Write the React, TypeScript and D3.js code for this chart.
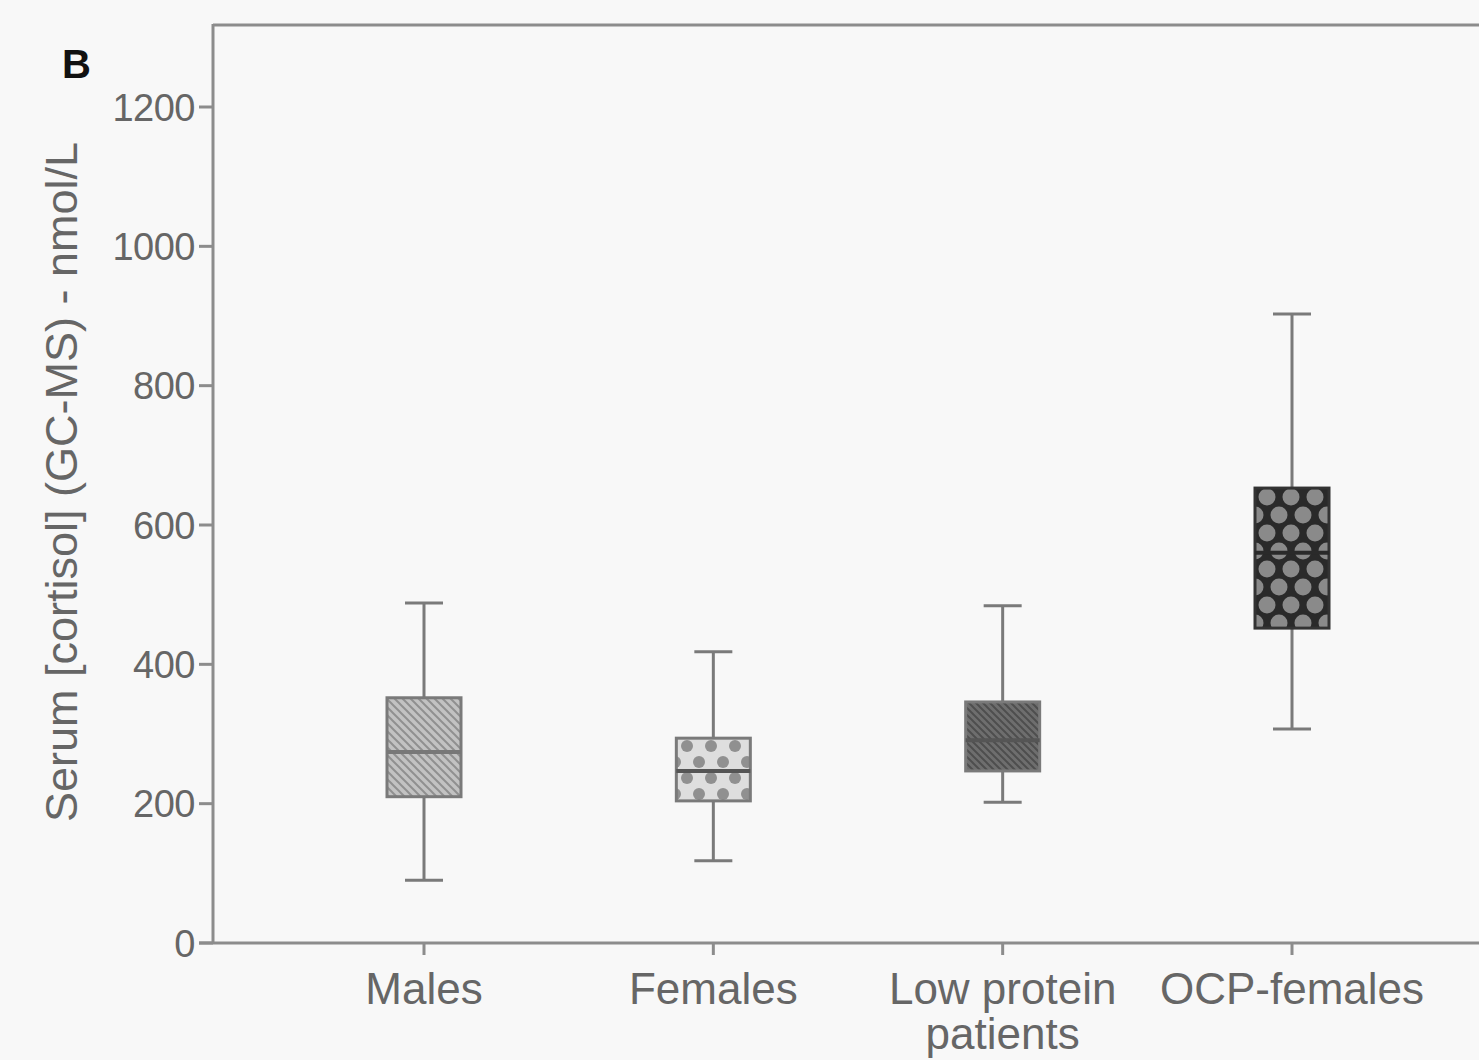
import React, { useEffect, useRef } from 'react';
import * as d3 from 'd3';

const categories = ['Males', 'Females', 'Low protein\npatients', 'OCP-females'];
const whiskerLow = [90, 118, 202, 307];
const q1 = [210, 204, 247, 452];
const median = [274, 247, 291, 560];
const q3 = [352, 294, 346, 653];
const whiskerHigh = [488, 418, 484, 903];
const yTicks = [0, 200, 400, 600, 800, 1000, 1200];

const App = () => {
  const ref = useRef<SVGSVGElement>(null);

  useEffect(() => {
    document.body.style.margin = '0';
    const width = 1479;
    const height = 1060;
    const left = 213, top = 25, bottom = 943;

    const svg = d3.select(ref.current);
    svg.selectAll('*').remove();
    svg.attr('width', width).attr('height', height);

    svg.append('rect').attr('width', width).attr('height', height).attr('fill', '#f8f8f8');

    const defs = svg.append('defs');

    // Males: light grey with diagonal hatch
    const p1 = defs.append('pattern').attr('id', 'pMales').attr('patternUnits', 'userSpaceOnUse')
      .attr('width', 8).attr('height', 8);
    p1.append('rect').attr('width', 8).attr('height', 8).attr('fill', '#c2c2c2');
    p1.append('path').attr('d', 'M-2,-2 L10,10 M-2,6 L2,10 M6,-2 L10,2').attr('stroke', '#909090').attr('stroke-width', 2);

    // Females: light with dark dots
    const p2 = defs.append('pattern').attr('id', 'pFemales').attr('patternUnits', 'userSpaceOnUse')
      .attr('width', 24).attr('height', 32).attr('x', 675).attr('y', 738);
    p2.append('rect').attr('width', 24).attr('height', 32).attr('fill', '#dedede');
    p2.append('circle').attr('cx', 12).attr('cy', 8).attr('r', 6).attr('fill', '#909090');
    p2.append('circle').attr('cx', 0).attr('cy', 24).attr('r', 6).attr('fill', '#909090');
    p2.append('circle').attr('cx', 24).attr('cy', 24).attr('r', 6).attr('fill', '#909090');

    // Low protein: dark grey with hatch
    const p3 = defs.append('pattern').attr('id', 'pLow').attr('patternUnits', 'userSpaceOnUse')
      .attr('width', 7).attr('height', 7);
    p3.append('rect').attr('width', 7).attr('height', 7).attr('fill', '#6e6e6e');
    p3.append('path').attr('d', 'M-2,-2 L9,9 M-2,5 L2,9 M5,-2 L9,2').attr('stroke', '#4e4e4e').attr('stroke-width', 2);

    // OCP: dark with grey circles
    const p4 = defs.append('pattern').attr('id', 'pOcp').attr('patternUnits', 'userSpaceOnUse')
      .attr('width', 24).attr('height', 36).attr('x', 1255).attr('y', 488);
    p4.append('rect').attr('width', 24).attr('height', 36).attr('fill', '#2a2a2a');
    [[12, 9], [0, 27], [24, 27], [0, -9], [24, -9], [12, 45]].forEach(([cx, cy]) => {
      p4.append('circle').attr('cx', cx).attr('cy', cy).attr('r', 8.5).attr('fill', '#8a8a8a');
    });

    const fills = ['url(#pMales)', 'url(#pFemales)', 'url(#pLow)', 'url(#pOcp)'];
    const medianColor = ['#777', '#555', '#555', '#2a2a2a'];

    const y = d3.scaleLinear().domain([0, 1200]).range([bottom, 107]);
    const x = d3.scalePoint<string>().domain(categories).range([424, 1292]);

    const axisColor = '#8c8c8c';
    const textColor = '#666';
    const font = '"Liberation Sans", Arial, sans-serif';

    // frame
    svg.append('line').attr('x1', left).attr('x2', width).attr('y1', top).attr('y2', top)
      .attr('stroke', axisColor).attr('stroke-width', 3);
    svg.append('line').attr('x1', left).attr('x2', left).attr('y1', top - 1).attr('y2', bottom)
      .attr('stroke', axisColor).attr('stroke-width', 3);
    svg.append('line').attr('x1', left - 14).attr('x2', width).attr('y1', bottom).attr('y2', bottom)
      .attr('stroke', axisColor).attr('stroke-width', 3);

    // y ticks
    const yg = svg.append('g');
    yTicks.forEach(t => {
      yg.append('line').attr('x1', left - 14).attr('x2', left).attr('y1', y(t)).attr('y2', y(t))
        .attr('stroke', axisColor).attr('stroke-width', 3);
      yg.append('text').attr('x', left - 18).attr('y', y(t)).attr('dy', '0.36em')
        .attr('text-anchor', 'end').attr('font-family', font).attr('font-size', 38)
        .attr('letter-spacing', -0.5).attr('fill', textColor).text(t);
    });

    // x ticks and labels
    categories.forEach(c => {
      const cx = x(c)!;
      svg.append('line').attr('x1', cx).attr('x2', cx).attr('y1', bottom).attr('y2', bottom + 12)
        .attr('stroke', axisColor).attr('stroke-width', 3);
      c.split('\n').forEach((line, i) => {
        svg.append('text').attr('x', cx).attr('y', 1004 + i * 45).attr('text-anchor', 'middle')
          .attr('font-family', font).attr('font-size', 44)
          .attr('fill', textColor).text(line);
      });
    });

    // y title
    svg.append('text').attr('transform', `translate(77,482) rotate(-90)`).attr('text-anchor', 'middle')
      .attr('font-family', font).attr('font-size', 45)
      .attr('fill', textColor).text('Serum [cortisol] (GC-MS) - nmol/L');

    svg.append('text').attr('x', 62).attr('y', 78).attr('font-family', font).attr('font-weight', 'bold')
      .attr('font-size', 40).attr('fill', '#111').text('B');

    // boxes
    const boxW = 74;
    const capW = 38;
    const stroke = '#7a7a7a';
    categories.forEach((c, i) => {
      const cx = x(c)!;
      const g = svg.append('g');
      g.append('line').attr('x1', cx).attr('x2', cx).attr('y1', y(whiskerHigh[i])).attr('y2', y(q3[i]))
        .attr('stroke', stroke).attr('stroke-width', 3);
      g.append('line').attr('x1', cx).attr('x2', cx).attr('y1', y(q1[i])).attr('y2', y(whiskerLow[i]))
        .attr('stroke', stroke).attr('stroke-width', 3);
      [whiskerHigh[i], whiskerLow[i]].forEach(v => {
        g.append('line').attr('x1', cx - capW / 2).attr('x2', cx + capW / 2).attr('y1', y(v)).attr('y2', y(v))
          .attr('stroke', stroke).attr('stroke-width', 3);
      });
      g.append('rect').attr('x', cx - boxW / 2).attr('width', boxW)
        .attr('y', y(q3[i])).attr('height', y(q1[i]) - y(q3[i]))
        .attr('fill', fills[i]).attr('stroke', i === 3 ? '#333' : stroke).attr('stroke-width', 3);
      g.append('line').attr('x1', cx - boxW / 2).attr('x2', cx + boxW / 2)
        .attr('y1', y(median[i])).attr('y2', y(median[i]))
        .attr('stroke', medianColor[i]).attr('stroke-width', 4);
    });
  }, []);

  return <svg ref={ref} style={{ display: 'block' }} />;
};

export default App;
